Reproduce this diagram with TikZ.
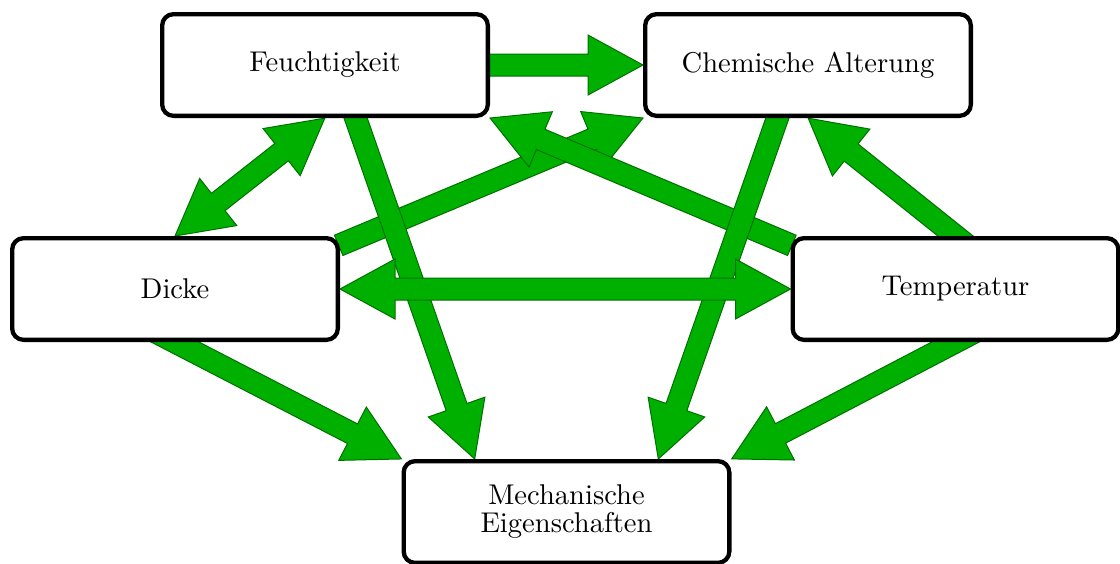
\documentclass[tikz,border=0pt]{standalone}
\usetikzlibrary{backgrounds}

\definecolor{arrowfill}{RGB}{0,176,0}
\definecolor{arrowline}{RGB}{0,112,0}

\tikzset{
  box/.style={draw=black, line width=1.5pt, rounded corners=4pt, fill=white,
    minimum width=114pt, minimum height=35.6pt, align=center, inner sep=2pt},
  arrowbody/.style={fill=arrowfill, draw=arrowline, line width=0.35pt, line join=miter},
}

% geometry of a block arrow from tail #1 to tip #2
\newcommand\arrowgeom[2]{%
  \path (#1); \pgfgetlastxy{\arTx}{\arTy}%
  \path (#2); \pgfgetlastxy{\arHx}{\arHy}%
  \pgfmathsetmacro\arAng{atan2(\arHy-\arTy,\arHx-\arTx)}%
  \pgfmathsetmacro\arLen{veclen(\arHx-\arTx,\arHy-\arTy)}%
  \pgfmathsetmacro\arBase{\arLen-19.25}%
}
% block arrow with one head; the optional length reaches the tail back under the source box
\newcommand\onearrow[3][15]{%
  \arrowgeom{#2}{#3}%
  \draw[arrowbody, shift={(\arTx,\arTy)}, rotate=\arAng]
    (-#1pt,-3.85pt) -- (\arBase pt,-3.85pt) -- (\arBase pt,-10.5pt) -- (\arLen pt,0pt)
    -- (\arBase pt,10.5pt) -- (\arBase pt,3.85pt) -- (-#1pt,3.85pt) -- cycle;
}
% block arrow with a head at each end
\newcommand\twoarrow[2]{%
  \arrowgeom{#1}{#2}%
  \draw[arrowbody, shift={(\arTx,\arTy)}, rotate=\arAng]
    (0pt,0pt) -- (19.25pt,10.5pt) -- (19.25pt,3.85pt) -- (\arBase pt,3.85pt)
    -- (\arBase pt,10.5pt) -- (\arLen pt,0pt) -- (\arBase pt,-10.5pt)
    -- (\arBase pt,-3.85pt) -- (19.25pt,-3.85pt) -- (19.25pt,-10.5pt) -- cycle;
}

\begin{document}
\begin{tikzpicture}[x=0.35pt, y=-0.35pt]
  \useasboundingbox (0,0) rectangle (1120,563);

  \node[box] (feu)   at (325,65)    {Feuchtigkeit};
  \node[box] (chem)  at (808,65)    {Chemische Alterung};
  \node[box] (dicke) at (175,289)   {Dicke};
  \node[box] (temp)  at (955.5,289) {Temperatur};
  \node[box] (mech)  at (566.5,512) {Mechanische\\[-2.2pt]Eigenschaften};

  \begin{pgfonlayer}{background}
    \onearrow[0.5]{dicke.15}{chem.south west}
    \onearrow[0.5]{temp.165}{feu.south east}
    \onearrow{feu.-60}{mech.150}
    \onearrow{chem.-120}{mech.30}
    \onearrow{dicke.south}{mech.north west}
    \onearrow{temp.south}{mech.north east}
    \onearrow{temp.north}{chem.south}
    \twoarrow{dicke.north}{feu.south}
    \onearrow{feu.east}{chem.west}
    \twoarrow{dicke.east}{temp.west}
  \end{pgfonlayer}
\end{tikzpicture}
\end{document}
